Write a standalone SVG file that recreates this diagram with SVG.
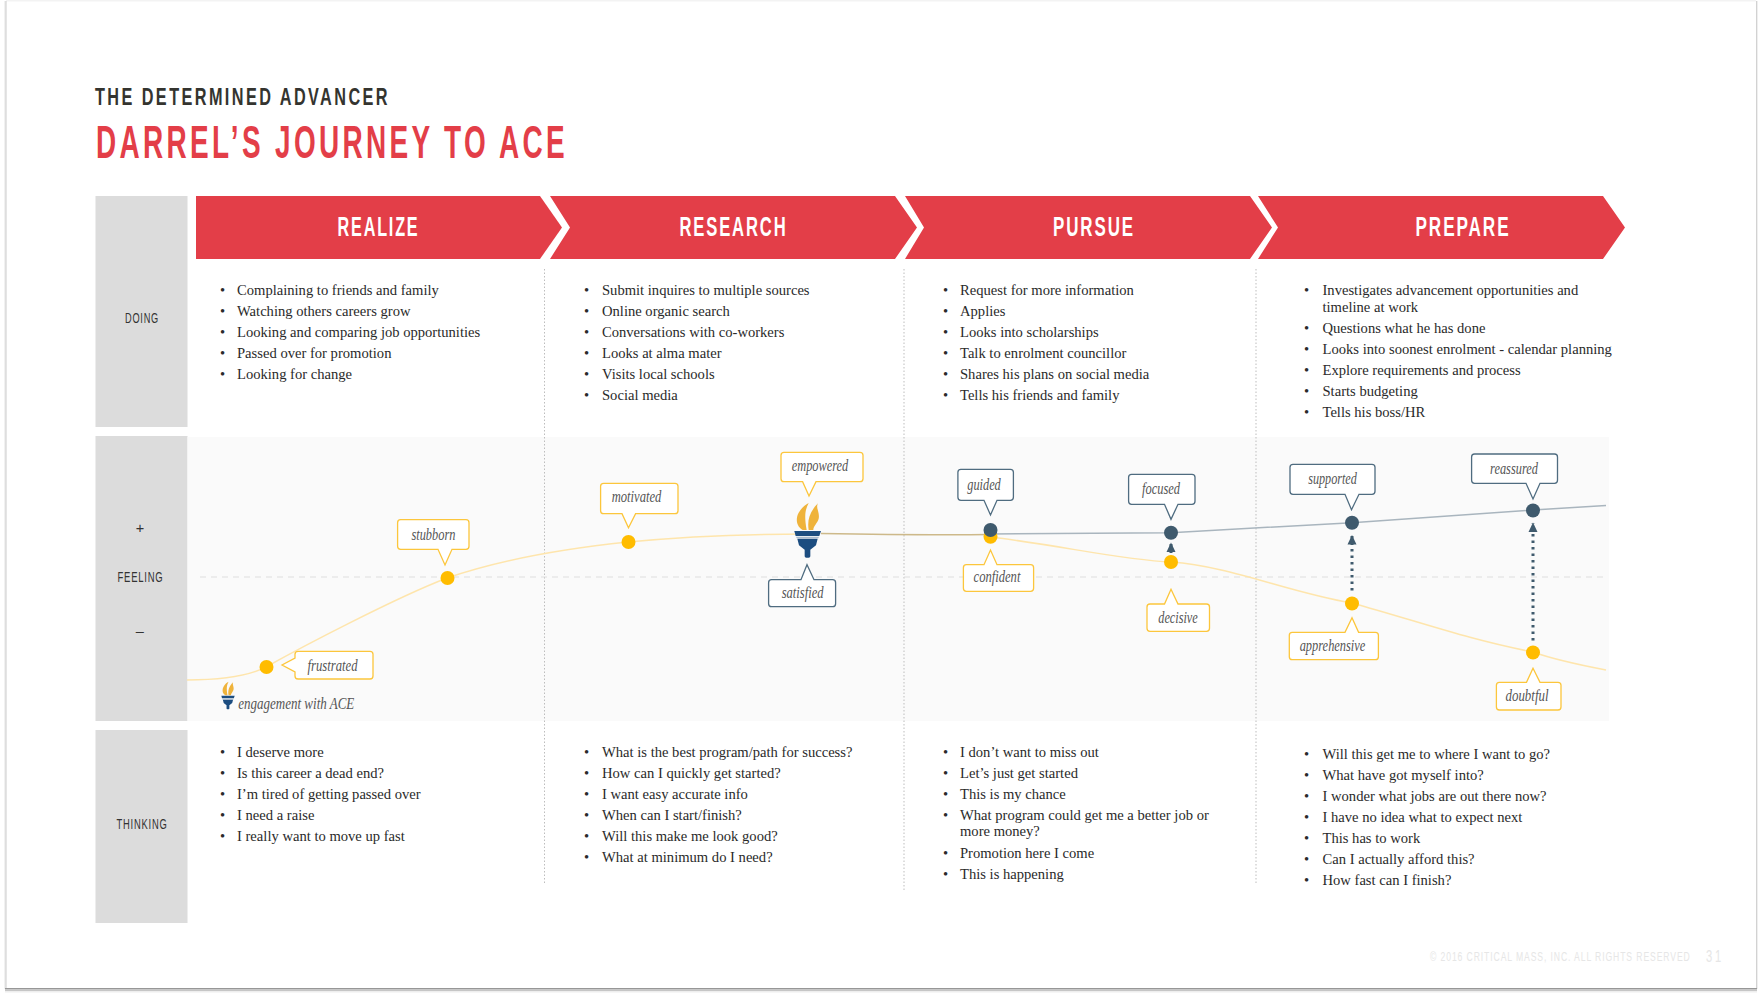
<svg xmlns="http://www.w3.org/2000/svg" width="1760" height="994" viewBox="0 0 1760 994">
<style>
.cond{font-family:"Liberation Sans",Arial,sans-serif}
.h1{font-size:24px;font-weight:700;fill:#34342f;letter-spacing:3.6px}
.h2{font-size:46px;font-weight:700;fill:#e33e48;letter-spacing:5.5px}
.stage{font-size:27px;font-weight:700;fill:#fff;text-anchor:middle;letter-spacing:3px}
.lane{font-size:14.5px;fill:#333;text-anchor:middle;letter-spacing:1.2px}
.t{font-family:"Liberation Serif","Times New Roman",serif;font-size:14.6px;fill:#2a2a2a}
.c{font-family:"Liberation Serif","Times New Roman",serif;font-style:italic;font-size:16px;fill:#555;text-anchor:middle}
.box{stroke-width:1.3;fill:#fff}
.o{stroke:#fcc63c}
.d{stroke:#4f6c80}
.dot-o{fill:#ffbc00}
.dot-d{fill:#3f5a6d}
.vr{stroke:#bdbdbd;stroke-width:1;stroke-dasharray:1.5 2;fill:none}
.up{stroke:#3f5a6d;stroke-width:3;stroke-dasharray:2.5 4;fill:none;marker-end:url(#ah)}
.foot{font-size:12.5px;fill:#e6e6e6;letter-spacing:1.3px}
</style>
<defs>
<marker id="ah" markerUnits="userSpaceOnUse" markerWidth="10" markerHeight="10" refX="9" refY="5" orient="auto"><path d="M0,0.5 L9.5,5 L0,9.5 Z" fill="#3f5a6d"/></marker>
<g id="torch">
<path d="M128,150 C106,138 108,112 116,98 C124,84 136,74 146,69 C136,88 132,106 140,150 Z M146,150 C142,124 146,98 174,70 C166,84 180,96 176,116 C172,130 160,138 160,150 Z" fill="#efb33b"/>
<path d="M103,153 H183 L178,168 H107 Z" fill="#1c4d80"/>
<path d="M108,170 H177 L175,175 H110 Z" fill="#a9bbce"/>
<path d="M112,176 H173 L168,196 L151,209 V229 Q151,233 146,233 H139 Q134,233 134,229 V209 L117,196 Z" fill="#1c4d80"/>
</g>
</defs>

<g id="page">
<rect width="1760" height="994" fill="#fff"/>
<rect x="6" y="0" width="1750" height="1.5" fill="#f3f3f3"/>
<rect x="4.5" y="1" width="1" height="988" fill="#e4e4e4"/>
<rect x="5.5" y="1" width="1" height="988" fill="#cbcbcb"/>
<rect x="1756" y="1" width="1" height="988" fill="#d2d2d2"/>
<rect x="1757" y="1" width="1" height="988" fill="#efefef"/>
<rect x="5" y="988" width="1752" height="1.5" fill="#979797"/>
<rect x="5" y="989.5" width="1752" height="1.5" fill="#c6c6c6"/>
<rect x="5" y="991" width="1752" height="1.5" fill="#eeeeee"/>
</g>

<g id="title">
<text class="cond h1" x="95" y="105" textLength="295" lengthAdjust="spacingAndGlyphs">THE DETERMINED ADVANCER</text>
<text class="cond h2" x="96" y="158" textLength="472" lengthAdjust="spacingAndGlyphs">DARREL’S JOURNEY TO ACE</text>
</g>

<g id="lane-doing"><rect x="95.5" y="196" width="92" height="231" fill="#dcdcdc"/><text class="cond lane" x="142" y="323" textLength="34" lengthAdjust="spacingAndGlyphs">DOING</text></g>
<g id="lane-feeling"><rect x="95.5" y="436" width="92" height="285" fill="#dcdcdc"/><text class="cond lane" x="140.5" y="533">+</text><text class="cond lane" x="140.5" y="582" textLength="46" lengthAdjust="spacingAndGlyphs">FEELING</text><text class="cond lane" x="140.5" y="636">–</text></g>
<g id="lane-thinking"><rect x="95.5" y="730" width="92" height="193" fill="#dcdcdc"/><text class="cond lane" x="142" y="829" textLength="51" lengthAdjust="spacingAndGlyphs">THINKING</text></g>

<rect id="feeling-band" x="187.5" y="437" width="1421.5" height="284" fill="#fafafa"/>

<g id="stage-realize"><path d="M196,196 H540 L562,227.5 L540,259 H196 Z" fill="#e33e48"/><text class="cond stage" x="378.5" y="236" textLength="82" lengthAdjust="spacingAndGlyphs">REALIZE</text></g>
<g id="stage-research"><path d="M550,196 H895 L917,227.5 L895,259 H550 L570,227.5 Z" fill="#e33e48"/><text class="cond stage" x="733.5" y="236" textLength="108" lengthAdjust="spacingAndGlyphs">RESEARCH</text></g>
<g id="stage-pursue"><path d="M905,196 H1250 L1272,227.5 L1250,259 H905 L924,227.5 Z" fill="#e33e48"/><text class="cond stage" x="1094" y="236" textLength="82" lengthAdjust="spacingAndGlyphs">PURSUE</text></g>
<g id="stage-prepare"><path d="M1258,196 H1603 L1625,227.5 L1603,259 H1258 L1278,227.5 Z" fill="#e33e48"/><text class="cond stage" x="1463" y="236" textLength="95" lengthAdjust="spacingAndGlyphs">PREPARE</text></g>

<g id="dividers">
<line class="vr" x1="544.5" y1="269" x2="544.5" y2="883"/>
<line class="vr" x1="904" y1="269" x2="904" y2="892"/>
<line class="vr" x1="1256" y1="269" x2="1256" y2="883"/>
<line x1="200" y1="577" x2="1606" y2="577" stroke="#dedede" stroke-width="1" stroke-dasharray="6 5"/>
</g>

<g id="doing-realize">
<text class="t" y="295"><tspan x="220">•</tspan><tspan x="237">Complaining to friends and family</tspan></text>
<text class="t" y="316"><tspan x="220">•</tspan><tspan x="237">Watching others careers grow</tspan></text>
<text class="t" y="337"><tspan x="220">•</tspan><tspan x="237">Looking and comparing job opportunities</tspan></text>
<text class="t" y="358"><tspan x="220">•</tspan><tspan x="237">Passed over for promotion</tspan></text>
<text class="t" y="379"><tspan x="220">•</tspan><tspan x="237">Looking for change</tspan></text>
</g>
<g id="doing-research">
<text class="t" y="295"><tspan x="584">•</tspan><tspan x="602">Submit inquires to multiple sources</tspan></text>
<text class="t" y="316"><tspan x="584">•</tspan><tspan x="602">Online organic search</tspan></text>
<text class="t" y="337"><tspan x="584">•</tspan><tspan x="602">Conversations with co-workers</tspan></text>
<text class="t" y="358"><tspan x="584">•</tspan><tspan x="602">Looks at alma mater</tspan></text>
<text class="t" y="379"><tspan x="584">•</tspan><tspan x="602">Visits local schools</tspan></text>
<text class="t" y="400"><tspan x="584">•</tspan><tspan x="602">Social media</tspan></text>
</g>
<g id="doing-pursue">
<text class="t" y="295"><tspan x="943">•</tspan><tspan x="960">Request for more information</tspan></text>
<text class="t" y="316"><tspan x="943">•</tspan><tspan x="960">Applies</tspan></text>
<text class="t" y="337"><tspan x="943">•</tspan><tspan x="960">Looks into scholarships</tspan></text>
<text class="t" y="358"><tspan x="943">•</tspan><tspan x="960">Talk to enrolment councillor</tspan></text>
<text class="t" y="379"><tspan x="943">•</tspan><tspan x="960">Shares his plans on social media</tspan></text>
<text class="t" y="400"><tspan x="943">•</tspan><tspan x="960">Tells his friends and family</tspan></text>
</g>
<g id="doing-prepare">
<text class="t" y="295"><tspan x="1304">•</tspan><tspan x="1322.5">Investigates advancement opportunities and</tspan></text>
<text class="t" y="311.5"><tspan x="1322.5">timeline at work</tspan></text>
<text class="t" y="332.5"><tspan x="1304">•</tspan><tspan x="1322.5">Questions what he has done</tspan></text>
<text class="t" y="353.5"><tspan x="1304">•</tspan><tspan x="1322.5">Looks into soonest enrolment - calendar planning</tspan></text>
<text class="t" y="374.5"><tspan x="1304">•</tspan><tspan x="1322.5">Explore requirements and process</tspan></text>
<text class="t" y="395.5"><tspan x="1304">•</tspan><tspan x="1322.5">Starts budgeting</tspan></text>
<text class="t" y="416.5"><tspan x="1304">•</tspan><tspan x="1322.5">Tells his boss/HR</tspan></text>
</g>

<g id="thinking-realize">
<text class="t" y="757"><tspan x="220">•</tspan><tspan x="237">I deserve more</tspan></text>
<text class="t" y="778"><tspan x="220">•</tspan><tspan x="237">Is this career a dead end?</tspan></text>
<text class="t" y="799"><tspan x="220">•</tspan><tspan x="237">I’m tired of getting passed over</tspan></text>
<text class="t" y="820"><tspan x="220">•</tspan><tspan x="237">I need a raise</tspan></text>
<text class="t" y="841"><tspan x="220">•</tspan><tspan x="237">I really want to move up fast</tspan></text>
</g>
<g id="thinking-research">
<text class="t" y="757"><tspan x="584">•</tspan><tspan x="602">What is the best program/path for success?</tspan></text>
<text class="t" y="778"><tspan x="584">•</tspan><tspan x="602">How can I quickly get started?</tspan></text>
<text class="t" y="799"><tspan x="584">•</tspan><tspan x="602">I want easy accurate info</tspan></text>
<text class="t" y="820"><tspan x="584">•</tspan><tspan x="602">When can I start/finish?</tspan></text>
<text class="t" y="841"><tspan x="584">•</tspan><tspan x="602">Will this make me look good?</tspan></text>
<text class="t" y="862"><tspan x="584">•</tspan><tspan x="602">What at minimum do I need?</tspan></text>
</g>
<g id="thinking-pursue">
<text class="t" y="757"><tspan x="943">•</tspan><tspan x="960">I don’t want to miss out</tspan></text>
<text class="t" y="778"><tspan x="943">•</tspan><tspan x="960">Let’s just get started</tspan></text>
<text class="t" y="799"><tspan x="943">•</tspan><tspan x="960">This is my chance</tspan></text>
<text class="t" y="820"><tspan x="943">•</tspan><tspan x="960">What program could get me a better job or</tspan></text>
<text class="t" y="836"><tspan x="960">more money?</tspan></text>
<text class="t" y="857.5"><tspan x="943">•</tspan><tspan x="960">Promotion here I come</tspan></text>
<text class="t" y="878.5"><tspan x="943">•</tspan><tspan x="960">This is happening</tspan></text>
</g>
<g id="thinking-prepare">
<text class="t" y="759"><tspan x="1304">•</tspan><tspan x="1322.5">Will this get me to where I want to go?</tspan></text>
<text class="t" y="780"><tspan x="1304">•</tspan><tspan x="1322.5">What have got myself into?</tspan></text>
<text class="t" y="801"><tspan x="1304">•</tspan><tspan x="1322.5">I wonder what jobs are out there now?</tspan></text>
<text class="t" y="822"><tspan x="1304">•</tspan><tspan x="1322.5">I have no idea what to expect next</tspan></text>
<text class="t" y="843"><tspan x="1304">•</tspan><tspan x="1322.5">This has to work</tspan></text>
<text class="t" y="864"><tspan x="1304">•</tspan><tspan x="1322.5">Can I actually afford this?</tspan></text>
<text class="t" y="885"><tspan x="1304">•</tspan><tspan x="1322.5">How fast can I finish?</tspan></text>
</g>

<g id="connectors" fill="none">
<path d="M187,680 C215,680 245,678 266,667 C300,648 395,598 447,578 C505,558 570,548 628,542 C690,536 750,534 808,534" stroke="#fee5ac" stroke-width="1.5"/>
<path d="M990,537 C1060,545 1120,560 1171,562 C1230,566 1290,593 1352,603 C1420,622 1470,640 1533,652 C1555,660 1580,665 1606,670" stroke="#fee5ac" stroke-width="1.5"/>
<path d="M821,533.5 C880,534.5 940,535 990,534.5" stroke="#cdb98a" stroke-width="1.5"/>
<path d="M990,534 L1171,532.7 L1352,522.7 L1533,510 L1606,505.5" stroke="#a9b5be" stroke-width="1.5"/>
<line class="up" x1="1171" y1="553" x2="1171" y2="543"/>
<line class="up" x1="1352" y1="590.5" x2="1352" y2="535.5"/>
<line class="up" x1="1533" y1="640.5" x2="1533" y2="523"/>
</g>

<g id="torch-main"><use href="#torch" transform="translate(760,480) scale(0.3333)"/></g>
<g id="legend"><use href="#torch" transform="translate(204.2,670.3) scale(0.1667)"/><text class="c" x="296.3" y="709" textLength="116" lengthAdjust="spacingAndGlyphs">engagement with ACE</text></g>

<g id="frustrated"><circle class="dot-o" cx="266.5" cy="667" r="7"/><path class="box o" d="M298,651.3 H370 Q373,651.3 373,654.3 V676 Q373,679 370,679 H298 Q295,679 295,676 V672 L282,665 L295,658 V654.3 Q295,651.3 298,651.3 Z"/><text class="c" x="332.5" y="670.5" textLength="50" lengthAdjust="spacingAndGlyphs">frustrated</text></g>
<g id="stubborn"><circle class="dot-o" cx="447.5" cy="578" r="7"/><path class="box o" d="M400.6,519.7 H466 Q469,519.7 469,522.7 V546.3 Q469,549.3 466,549.3 H452 L445,565 L438,549.3 H400.6 Q397.6,549.3 397.6,546.3 V522.7 Q397.6,519.7 400.6,519.7 Z"/><text class="c" x="433.4" y="540" textLength="44" lengthAdjust="spacingAndGlyphs">stubborn</text></g>
<g id="motivated"><circle class="dot-o" cx="628.5" cy="542" r="7"/><path class="box o" d="M603.6,483.3 H675 Q678,483.3 678,486.3 V510.7 Q678,513.7 675,513.7 H635.6 L628.5,527.7 L622,513.7 H603.6 Q600.6,513.7 600.6,510.7 V486.3 Q600.6,483.3 603.6,483.3 Z"/><text class="c" x="636.5" y="502.2" textLength="49.6" lengthAdjust="spacingAndGlyphs">motivated</text></g>
<g id="empowered"><path class="box o" d="M784,452.3 H860 Q863,452.3 863,455.3 V478.7 Q863,481.7 860,481.7 H816 L809,496 L802.6,481.7 H784 Q781,481.7 781,478.7 V455.3 Q781,452.3 784,452.3 Z"/><text class="c" x="820" y="471.2" textLength="56.5" lengthAdjust="spacingAndGlyphs">empowered</text></g>
<g id="satisfied"><path class="box d" d="M771.6,579.7 H801 L807,564.7 L814,579.7 H832.6 Q835.6,579.7 835.6,582.7 V603.7 Q835.6,606.7 832.6,606.7 H771.6 Q768.6,606.7 768.6,603.7 V582.7 Q768.6,579.7 771.6,579.7 Z"/><text class="c" x="802.6" y="598" textLength="41.8" lengthAdjust="spacingAndGlyphs">satisfied</text></g>

<g id="confident"><circle class="dot-o" cx="990.5" cy="536.7" r="7"/><path class="box o" d="M966.4,564.7 H984 L990.5,550 L997,564.7 H1030.6 Q1033.6,564.7 1033.6,567.7 V588.3 Q1033.6,591.3 1030.6,591.3 H966.4 Q963.4,591.3 963.4,588.3 V567.7 Q963.4,564.7 966.4,564.7 Z"/><text class="c" x="997" y="582.3" textLength="46.8" lengthAdjust="spacingAndGlyphs">confident</text></g>
<g id="guided"><circle class="dot-d" cx="990.5" cy="530" r="7"/><path class="box d" d="M960.9,469.3 H1010.4 Q1013.4,469.3 1013.4,472.3 V497.3 Q1013.4,500.3 1010.4,500.3 H997 L990.5,515 L984,500.3 H960.9 Q957.9,500.3 957.9,497.3 V472.3 Q957.9,469.3 960.9,469.3 Z"/><text class="c" x="984" y="489.5" textLength="33.5" lengthAdjust="spacingAndGlyphs">guided</text></g>
<g id="decisive"><circle class="dot-o" cx="1171" cy="562" r="7"/><path class="box o" d="M1150,604 H1164.5 L1171,589.3 L1178,604 H1206.5 Q1209.5,604 1209.5,607 V628.3 Q1209.5,631.3 1206.5,631.3 H1150 Q1147,631.3 1147,628.3 V607 Q1147,604 1150,604 Z"/><text class="c" x="1178" y="623" textLength="39.5" lengthAdjust="spacingAndGlyphs">decisive</text></g>
<g id="focused"><circle class="dot-d" cx="1171" cy="532.7" r="7"/><path class="box d" d="M1131.6,474.3 H1192 Q1195,474.3 1195,477.3 V501.3 Q1195,504.3 1192,504.3 H1178 L1171,519.3 L1164.5,504.3 H1131.6 Q1128.6,504.3 1128.6,501.3 V477.3 Q1128.6,474.3 1131.6,474.3 Z"/><text class="c" x="1161" y="494" textLength="38" lengthAdjust="spacingAndGlyphs">focused</text></g>
<g id="apprehensive"><circle class="dot-o" cx="1352" cy="603.5" r="7"/><path class="box o" d="M1292.3,632.3 H1345 L1352,617.7 L1358.6,632.3 H1375.4 Q1378.4,632.3 1378.4,635.3 V656.7 Q1378.4,659.7 1375.4,659.7 H1292.3 Q1289.3,659.7 1289.3,656.7 V635.3 Q1289.3,632.3 1292.3,632.3 Z"/><text class="c" x="1332.5" y="651" textLength="65.7" lengthAdjust="spacingAndGlyphs">apprehensive</text></g>
<g id="supported"><circle class="dot-d" cx="1352" cy="522.7" r="7"/><path class="box d" d="M1293,464.3 H1372 Q1375,464.3 1375,467.3 V491.3 Q1375,494.3 1372,494.3 H1359 L1351.5,509.7 L1345,494.3 H1293 Q1290,494.3 1290,491.3 V467.3 Q1290,464.3 1293,464.3 Z"/><text class="c" x="1332.5" y="484" textLength="48.7" lengthAdjust="spacingAndGlyphs">supported</text></g>
<g id="doubtful"><circle class="dot-o" cx="1533" cy="652.5" r="7"/><path class="box o" d="M1499.4,682.3 H1526.5 L1533,668.3 L1540,682.3 H1558 Q1561,682.3 1561,685.3 V707 Q1561,710 1558,710 H1499.4 Q1496.4,710 1496.4,707 V685.3 Q1496.4,682.3 1499.4,682.3 Z"/><text class="c" x="1527" y="701" textLength="43" lengthAdjust="spacingAndGlyphs">doubtful</text></g>
<g id="reassured"><circle class="dot-d" cx="1533" cy="510.5" r="7"/><path class="box d" d="M1474.6,454 H1554.5 Q1557.5,454 1557.5,457 V480.3 Q1557.5,483.3 1554.5,483.3 H1540 L1533,499 L1526,483.3 H1474.6 Q1471.6,483.3 1471.6,480.3 V457 Q1471.6,454 1474.6,454 Z"/><text class="c" x="1514" y="474" textLength="47.8" lengthAdjust="spacingAndGlyphs">reassured</text></g>

<g id="footer">
<text class="cond foot" transform="translate(1430,961) scale(0.69,1)">© 2016 CRITICAL MASS, INC. ALL RIGHTS RESERVED</text>
<text class="cond foot" transform="translate(1706,962) scale(0.7,1)" style="font-size:16px;letter-spacing:4px">31</text>
</g>
</svg>
